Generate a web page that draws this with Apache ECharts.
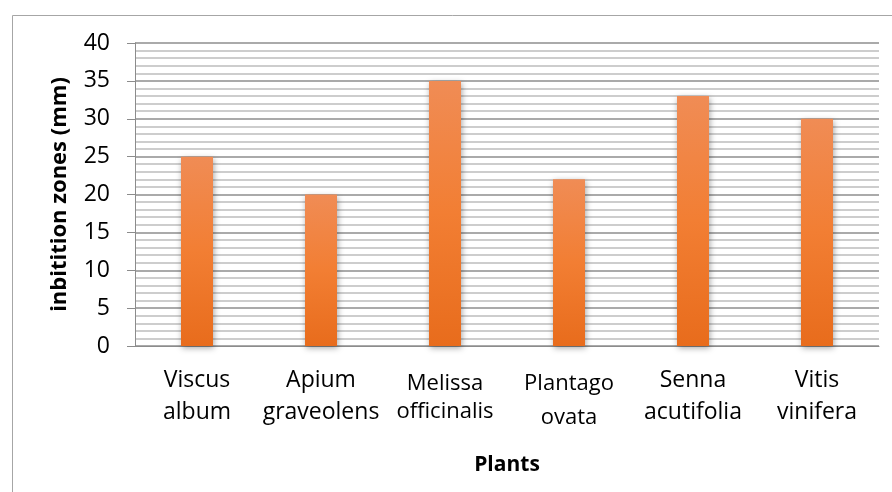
<!DOCTYPE html>
<html>
<head>
<meta charset="utf-8">
<script src="https://cdn.jsdelivr.net/npm/echarts@6/dist/echarts.min.js"></script>
<style>html,body{margin:0;padding:0;background:#fff}#c{width:892px;height:492px}</style>
</head>
<body>
<div id="c"></div>
<script>
const categories = ['Viscus\nalbum', 'Apium\ngraveolens', 'Melissa\nofficinalis', 'Plantago\novata', 'Senna\nacutifolia', 'Vitis\nvinifera'];
const values = [25, 20, 35, 22, 33, 30];
const yTicks = { min: 0, max: 40, interval: 5 };

const chart = echarts.init(document.getElementById('c'));
const font = '"Open Sans", sans-serif';
const labelRich = {
  a: { fontFamily: font, fontSize: 23, color: '#000', lineHeight: 32 },
  m1: { fontFamily: font, fontSize: 22, color: '#000', lineHeight: 40 },
  m2: { fontFamily: font, fontSize: 22, color: '#000', lineHeight: 16 },
  p2: { fontFamily: font, fontSize: 22, color: '#000', lineHeight: 28 }
};
function fmtLabel(v) {
  const parts = v.split('\n');
  if (parts[0] === 'Melissa') return '{m1|' + parts[0] + '}\n{m2|' + parts[1] + '}';
  if (parts[0] === 'Plantago') return '{m1|' + parts[0] + '}\n{p2|' + parts[1] + '}';
  return '{a|' + parts[0] + '}\n{a|' + parts[1] + '}';
}
chart.setOption({
  animation: false,
  graphic: [{
    type: 'rect', left: 10, top: 13, shape: { width: 900, height: 500 },
    style: { fill: 'none', stroke: '#a6a6a6', lineWidth: 1 }, silent: true
  }],
  grid: { left: 135, right: 13, top: 43, bottom: 146 },
  xAxis: {
    type: 'category',
    data: categories,
    name: 'Plants',
    nameLocation: 'middle',
    nameGap: 109,
    nameTextStyle: { fontFamily: font, fontWeight: 'bold', fontSize: 21, color: '#000' },
    axisLine: { lineStyle: { color: '#8c8c8c', width: 1 } },
    axisTick: { show: false },
    axisLabel: { interval: 0, margin: 18, formatter: fmtLabel, rich: labelRich }
  },
  yAxis: {
    type: 'value',
    min: yTicks.min, max: yTicks.max, interval: yTicks.interval,
    name: 'inbitition zones (mm)',
    nameLocation: 'middle',
    nameGap: 64,
    nameTextStyle: { fontFamily: font, fontWeight: 'bold', fontSize: 22, color: '#000' },
    axisLine: { show: true, lineStyle: { color: '#8c8c8c', width: 1 } },
    axisTick: { show: true, length: 8, lineStyle: { color: '#8c8c8c' } },
    axisLabel: { fontFamily: font, fontSize: 23, color: '#000', margin: 25 },
    splitLine: { show: true, lineStyle: { color: '#8e8e8e', width: 1.5 } },
    minorTick: { show: false, splitNumber: 5 },
    minorSplitLine: { show: true, lineStyle: { color: '#bdbdbd', width: 1.5 } }
  },
  series: [{
    type: 'bar',
    data: values,
    barWidth: 32,
    itemStyle: {
      color: new echarts.graphic.LinearGradient(0, 0, 0, 1, [
        { offset: 0, color: '#F08C55' },
        { offset: 0.5, color: '#F27E33' },
        { offset: 1, color: '#E86C1C' }
      ]),
      shadowColor: 'rgba(0,0,0,0.35)',
      shadowBlur: 6,
      shadowOffsetX: 1,
      shadowOffsetY: 2
    }
  }]
});
</script>
</body>
</html>
